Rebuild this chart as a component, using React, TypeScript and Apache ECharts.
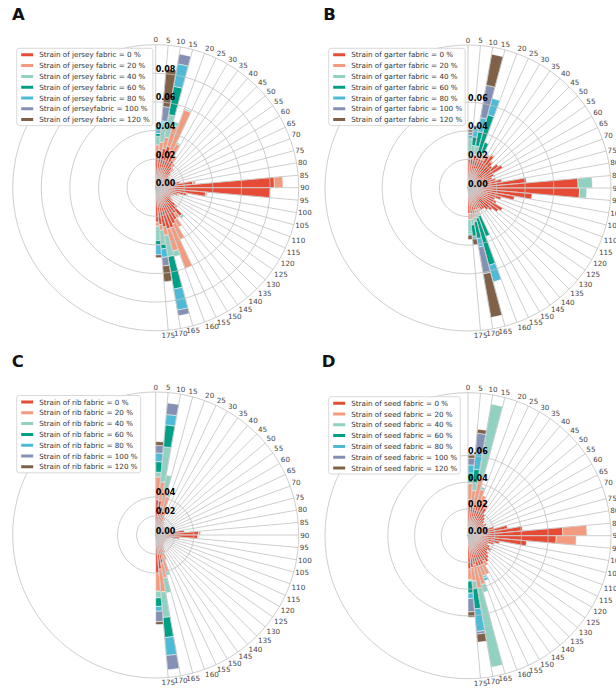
import React, { useEffect, useRef } from 'react';
import * as echarts from 'echarts';

// Angular bins: 0-5, 5-10, ..., 175-180 degrees (36 bins). The angle axis spans the full circle.
const angleCategories = Array.from({ length: 72 }, (_, i) => String(i * 5));

const strainColors = ['#E64B35', '#F39B7F', '#91D1C2', '#00A087', '#4DBBD5', '#8491B4', '#7E6148'];

const jerseyNames = [
  'Strain of jersey fabric = 0 %', 'Strain of jersey fabric = 20 %', 'Strain of jersey fabric = 40 %',
  'Strain of jersey fabric = 60 %', 'Strain of jersey fabric = 80 %', 'Strain of jerseyfabric = 100 %',
  'Strain of jersey fabric = 120 %',
];
const garterNames = [
  'Strain of garter fabric = 0 %', 'Strain of garter fabric = 20 %', 'Strain of garter fabric = 40 %',
  'Strain of garter fabric = 60 %', 'Strain of garter fabric = 80 %', 'Strain of garter fabric = 100 %',
  'Strain of garter fabric = 120 %',
];
const ribNames = [
  'Strain of rib fabric = 0 %', 'Strain of rib fabric = 20 %', 'Strain of rib fabric = 40 %',
  'Strain of rib fabric = 60 %', 'Strain of rib fabric = 80 %', 'Strain of rib fabric = 100 %',
  'Strain of rib fabric = 120 %',
];
const seedNames = [
  'Strain of seed fabric = 0 %', 'Strain of seed fabric = 20 %', 'Strain of seed fabric = 40 %',
  'Strain of seed fabric = 60 %', 'Strain of seed fabric = 80 %', 'Strain of seed fabric = 100 %',
  'Strain of seed fabric = 120 %',
];

const jerseyTicks = [0, 0.02, 0.04, 0.06, 0.08];
const garterTicks = [0, 0.02, 0.04, 0.06];
const ribTicks = [0, 0.02, 0.04];
const seedTicks = [0, 0.02, 0.04, 0.06];

// ---- Jersey (A) ----
const jersey0 = [
  0.024, 0.026, 0.028, 0.030, 0.028, 0.026, 0.022, 0.018, 0.015, 0.012,
  0.010, 0.010, 0.010, 0.011, 0.013, 0.017, 0.026, 0.083, 0.080, 0.035,
  0.022, 0.016, 0.013, 0.012, 0.012, 0.014, 0.018, 0.026, 0.022, 0.026,
  0.028, 0.030, 0.030, 0.028, 0.026, 0.024];
const jersey20 = [
  0.006, 0.006, 0.008, 0.015, 0.030, 0.008, 0.004, 0.003, 0.003, 0.002,
  0.002, 0.001, 0.001, 0.001, 0.001, 0.001, 0.002, 0.006, 0, 0.001,
  0.001, 0.001, 0.001, 0.001, 0.001, 0.001, 0.002, 0, 0.004, 0.006,
  0.012, 0.030, 0.016, 0.006, 0.004, 0.003];
const jersey40 = [
  0.006, 0.013, 0.016, 0.003, 0.001, 0.001, 0, 0, 0, 0,
  0, 0, 0, 0, 0, 0, 0, 0, 0, 0,
  0, 0, 0, 0, 0, 0, 0, 0.002, 0, 0,
  0, 0, 0.004, 0.015, 0.010, 0.010];
const jersey60 = [
  0.002, 0.001, 0.020, 0, 0, 0, 0, 0, 0, 0,
  0, 0, 0, 0, 0, 0, 0, 0, 0, 0,
  0, 0, 0, 0, 0, 0, 0, 0, 0, 0,
  0, 0, 0, 0.023, 0.003, 0.003];
const jersey80 = [
  0.005, 0.001, 0.016, 0, 0, 0, 0, 0, 0, 0,
  0, 0, 0, 0, 0, 0, 0, 0, 0, 0,
  0, 0, 0, 0, 0, 0, 0, 0, 0, 0,
  0, 0, 0, 0.015, 0.006, 0.007];
const jersey100 = [
  0.001, 0.010, 0.007, 0, 0, 0, 0, 0, 0, 0,
  0, 0, 0, 0, 0, 0, 0, 0, 0, 0,
  0, 0, 0, 0, 0, 0, 0, 0, 0, 0,
  0, 0, 0, 0.004, 0.006, 0];
const jersey120 = [
  0.001, 0.026, 0, 0, 0, 0, 0, 0, 0, 0,
  0, 0, 0, 0, 0, 0, 0, 0, 0, 0,
  0, 0, 0, 0, 0, 0, 0, 0, 0, 0,
  0, 0, 0, 0, 0.011, 0.002];

// ---- Garter (B) ----
const garter0 = [
  0.020, 0.021, 0.022, 0.022, 0.022, 0.022, 0.026, 0.028, 0.024, 0.022,
  0.026, 0.028, 0.020, 0.018, 0.020, 0.024, 0.041, 0.077, 0.078, 0.045,
  0.033, 0.024, 0.020, 0.022, 0.028, 0.026, 0.022, 0.020, 0.018, 0.018,
  0.016, 0.016, 0.016, 0.018, 0.018, 0.018];
const garter20 = [
  0.002, 0.002, 0.002, 0.002, 0.002, 0.002, 0.001, 0.001, 0.001, 0,
  0, 0, 0, 0, 0, 0, 0, 0, 0, 0,
  0, 0, 0, 0, 0, 0, 0, 0, 0, 0,
  0.002, 0.003, 0.003, 0.003, 0.004, 0.004];
const garter40 = [
  0.012, 0.007, 0.006, 0.002, 0.002, 0, 0, 0, 0, 0,
  0, 0, 0, 0, 0, 0, 0, 0.010, 0.005, 0,
  0, 0, 0, 0, 0, 0, 0, 0, 0, 0,
  0, 0.002, 0.003, 0.003, 0.004, 0.009];
const garter60 = [
  0.001, 0.006, 0.010, 0.027, 0.008, 0, 0, 0, 0, 0,
  0, 0, 0, 0, 0, 0, 0, 0, 0, 0,
  0, 0, 0, 0, 0, 0, 0, 0, 0, 0,
  0, 0.015, 0.034, 0.012, 0.008, 0.001];
const garter80 = [
  0.002, 0.006, 0.010, 0.012, 0, 0, 0, 0, 0, 0,
  0, 0, 0, 0, 0, 0, 0, 0, 0, 0,
  0, 0, 0, 0, 0, 0, 0, 0, 0, 0,
  0, 0, 0.012, 0.006, 0.002, 0.001];
const garter100 = [
  0.002, 0.002, 0.023, 0, 0, 0, 0, 0, 0, 0,
  0, 0, 0, 0, 0, 0, 0, 0, 0, 0,
  0, 0, 0, 0, 0, 0, 0, 0, 0, 0,
  0, 0, 0, 0.019, 0, 0];
const garter120 = [
  0.002, 0, 0.022, 0, 0, 0, 0, 0, 0, 0,
  0, 0, 0, 0, 0, 0, 0, 0, 0, 0,
  0, 0, 0, 0, 0, 0, 0, 0, 0, 0,
  0, 0, 0, 0.031, 0.004, 0.003];

// ---- Rib (C) ----
const rib0 = [
  0.037, 0.036, 0.030, 0.024, 0.020, 0.016, 0.014, 0.013, 0.012, 0.012,
  0.011, 0.011, 0.012, 0.012, 0.014, 0.018, 0.030, 0.045, 0.044, 0.025,
  0.014, 0.012, 0.011, 0.011, 0.012, 0.011, 0.012, 0.012, 0.013, 0.014,
  0.016, 0.020, 0.024, 0.030, 0.036, 0.040];
const rib20 = [
  0.024, 0.020, 0.018, 0.018, 0.010, 0.004, 0.002, 0.001, 0, 0,
  0, 0, 0, 0, 0, 0, 0, 0.002, 0.001, 0,
  0, 0, 0, 0, 0, 0, 0, 0, 0, 0.002,
  0.004, 0.008, 0.016, 0.016, 0.024, 0.019];
const rib40 = [
  0.005, 0.037, 0.016, 0.003, 0, 0, 0, 0, 0, 0,
  0, 0, 0, 0, 0, 0, 0, 0, 0, 0,
  0, 0, 0, 0, 0, 0, 0, 0, 0, 0,
  0, 0, 0.004, 0.016, 0.027, 0.007];
const rib60 = [
  0.011, 0.023, 0, 0, 0, 0, 0, 0, 0, 0,
  0, 0, 0, 0, 0, 0, 0, 0, 0, 0,
  0, 0, 0, 0, 0, 0, 0, 0, 0, 0,
  0, 0, 0, 0, 0.021, 0.009];
const rib80 = [
  0.009, 0.011, 0, 0, 0, 0, 0, 0, 0, 0,
  0, 0, 0, 0, 0, 0, 0, 0, 0, 0,
  0, 0, 0, 0, 0, 0, 0, 0, 0, 0,
  0, 0, 0, 0, 0.019, 0.005];
const rib100 = [
  0.008, 0.012, 0, 0, 0, 0, 0, 0, 0, 0,
  0, 0, 0, 0, 0, 0, 0, 0, 0, 0,
  0, 0, 0, 0, 0, 0, 0, 0, 0, 0,
  0, 0, 0, 0, 0.015, 0.011];
const rib120 = [
  0.004, 0, 0, 0, 0, 0, 0, 0, 0, 0,
  0, 0, 0, 0, 0, 0, 0, 0, 0, 0,
  0, 0, 0, 0, 0, 0, 0, 0, 0, 0,
  0, 0, 0, 0, 0, 0.003];

// ---- Seed (D) ----
const seed0 = [
  0.027, 0.022, 0.022, 0.024, 0.026, 0.028, 0.024, 0.020, 0.018, 0.016,
  0.014, 0.016, 0.014, 0.016, 0.020, 0.030, 0.041, 0.071, 0.066, 0.044,
  0.024, 0.020, 0.016, 0.018, 0.020, 0.018, 0.020, 0.022, 0.024, 0.022,
  0.024, 0.024, 0.024, 0.022, 0.024, 0.025];
const seed20 = [
  0.012, 0.012, 0.023, 0.012, 0.006, 0.002, 0.002, 0, 0, 0,
  0, 0, 0, 0, 0, 0, 0, 0.018, 0.015, 0,
  0, 0, 0, 0, 0, 0, 0, 0, 0, 0.004,
  0.008, 0.008, 0.014, 0.018, 0.010, 0.008];
const seed40 = [
  0.001, 0.006, 0.055, 0.002, 0, 0, 0, 0, 0, 0,
  0, 0, 0, 0, 0, 0, 0, 0, 0, 0,
  0, 0, 0, 0, 0, 0, 0, 0, 0, 0,
  0, 0.002, 0.006, 0.060, 0.006, 0.001];
const seed60 = [
  0.007, 0.010, 0, 0, 0, 0, 0, 0, 0, 0,
  0, 0, 0, 0, 0, 0, 0, 0, 0, 0,
  0, 0, 0, 0, 0, 0, 0, 0, 0, 0,
  0, 0, 0, 0, 0.015, 0.009];
const seed80 = [
  0.006, 0.012, 0, 0, 0, 0, 0, 0, 0, 0,
  0, 0, 0, 0, 0, 0, 0, 0, 0, 0,
  0, 0, 0, 0, 0, 0, 0, 0, 0, 0,
  0, 0.002, 0, 0, 0.017, 0.004];
const seed100 = [
  0.005, 0.015, 0, 0, 0, 0, 0, 0, 0, 0,
  0, 0, 0, 0, 0, 0, 0, 0, 0, 0,
  0, 0, 0, 0, 0, 0, 0, 0, 0, 0,
  0, 0, 0, 0, 0.002, 0.010];
const seed120 = [
  0.003, 0.003, 0, 0, 0, 0, 0, 0, 0, 0,
  0, 0, 0, 0, 0, 0, 0, 0, 0, 0,
  0, 0, 0, 0, 0, 0, 0, 0, 0, 0,
  0, 0, 0, 0, 0.006, 0.004];

const panels = [
  { letter: 'A', names: jerseyNames, values: [jersey0, jersey20, jersey40, jersey60, jersey80, jersey100, jersey120], ticks: jerseyTicks, rmax: 0.10 },
  { letter: 'B', names: garterNames, values: [garter0, garter20, garter40, garter60, garter80, garter100, garter120], ticks: garterTicks, rmax: 0.10 },
  { letter: 'C', names: ribNames, values: [rib0, rib20, rib40, rib60, rib80, rib100, rib120], ticks: ribTicks, rmax: 0.15 },
  { letter: 'D', names: seedNames, values: [seed0, seed20, seed40, seed60, seed80, seed100, seed120], ticks: seedTicks, rmax: 0.107 },
];

// layout (pixels)
const layout = [
  { center: [155.7, 187.7], legend: [16.7, 48.3], title: [12, 6] },
  { center: [468, 188], legend: [328.7, 48.3], title: [323.2, 6] },
  { center: [155.7, 535], legend: [16.7, 395.5], title: [11.7, 353] },
  { center: [468, 535.7], legend: [328.7, 396.7], title: [321.8, 353] },
];

const OUTER_R = 143;
const gridColor = '#c2c2c2';
const FONT = 'DejaVu Sans';
const spokeFilter = (index: number) => index < 36;

export default function App() {
  const ref = useRef<HTMLDivElement>(null);
  useEffect(() => {
    document.body.style.margin = '0';
    const chart = echarts.init(ref.current as HTMLDivElement, null, { renderer: 'svg' });
    const polar: any[] = [];
    const angleAxis: any[] = [];
    const radiusAxis: any[] = [];
    const series: any[] = [];
    const legend: any[] = [];
    const title: any[] = [];

    panels.forEach((p, i) => {
      const L = layout[i];
      const base = i * 3;
      const lastTick = p.ticks[p.ticks.length - 1];
      polar.push(
        { center: L.center, radius: OUTER_R },
        { center: L.center, radius: OUTER_R },
        { center: L.center, radius: (OUTER_R * lastTick) / p.rmax }
      );
      angleAxis.push(
        {
          polarIndex: base, type: 'category', data: angleCategories, startAngle: 90, clockwise: true,
          boundaryGap: true, z: 5,
          axisLine: { show: true, lineStyle: { color: gridColor, width: 0.8 } },
          axisTick: { show: true, interval: spokeFilter, length: 0, lineStyle: { opacity: 0 } },
          axisLabel: { show: false },
          splitLine: { show: true, interval: spokeFilter, lineStyle: { color: gridColor, width: 0.8 } },
        },
        {
          polarIndex: base + 1, type: 'value', min: 0, max: 360, interval: 5, startAngle: 90, clockwise: true,
          axisLine: { show: false }, axisTick: { show: false }, splitLine: { show: false },
          axisLabel: {
            show: true, margin: 1.5, color: '#444', fontSize: 7.2, fontFamily: FONT,
            formatter: (v: number) => (v < 180 ? String(v) : ''),
          },
        },
        { polarIndex: base + 2, type: 'value', min: 0, max: 360, startAngle: 90, show: false }
      );
      radiusAxis.push(
        { polarIndex: base, type: 'value', min: 0, max: p.rmax, show: false },
        { polarIndex: base + 1, type: 'value', min: 0, max: 1, show: false },
        {
          polarIndex: base + 2, type: 'value', min: 0, max: lastTick, interval: 0.02, z: 6,
          axisLine: { show: false }, axisTick: { show: false },
          splitLine: { show: true, lineStyle: { color: gridColor, width: 0.8 } },
          axisLabel: {
            show: true, margin: 0, align: 'left', verticalAlign: 'bottom',
            formatter: (v: number) => v.toFixed(2),
            fontSize: 8, fontWeight: 'bold', color: '#000', fontFamily: FONT,
          },
        }
      );
      p.values.forEach((vals, k) => {
        series.push({
          type: 'bar', name: p.names[k], coordinateSystem: 'polar', polarIndex: base,
          stack: 'stack' + i, barCategoryGap: '0%', silent: true, z: 2,
          data: vals.map((v) => (v === 0 ? null : v)),
          itemStyle: { color: strainColors[k], borderColor: '#ffffff', borderWidth: 0.5 },
        });
      });
      legend.push({
        data: p.names, orient: 'vertical', left: L.legend[0], top: L.legend[1], icon: 'rect',
        itemWidth: 14, itemHeight: 5, itemGap: 2.8, padding: [2.5, 3, 2, 2.5],
        backgroundColor: 'rgba(255,255,255,0.85)', borderColor: '#cfcfcf', borderWidth: 0.8, borderRadius: 2.5,
        selectedMode: false, z: 20,
        textStyle: { fontSize: 7.2, color: '#333', fontFamily: FONT, lineHeight: 8 },
      });
      title.push({
        text: p.letter, left: L.title[0], top: L.title[1], padding: 0,
        textStyle: { fontSize: 16.5, fontWeight: 'bold', color: '#111', fontFamily: FONT },
      });
    });

    chart.setOption({
      animation: false,
      backgroundColor: '#ffffff',
      title, legend, polar, angleAxis, radiusAxis, series,
    });
    return () => chart.dispose();
  }, []);
  return <div ref={ref} style={{ width: 616, height: 688 }} />;
}
